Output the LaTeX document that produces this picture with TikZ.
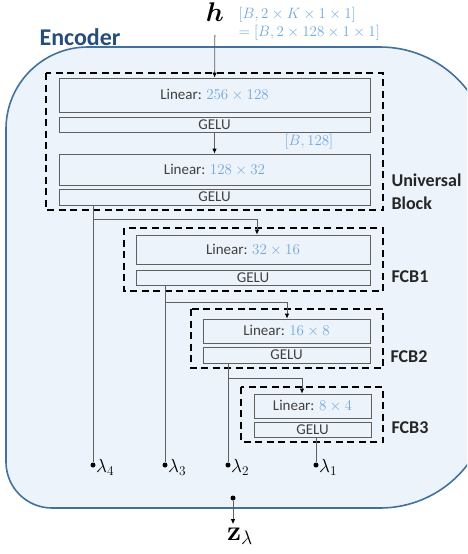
\RequirePackage{fix-cm}
\documentclass[tikz,border=0pt]{standalone}
\usepackage[no-math]{fontspec}
\setmainfont{Carlito}
\usepackage{bm}
\usetikzlibrary{arrows.meta,scopes}
\definecolor{encfill}{RGB}{237,243,250}
\definecolor{encline}{RGB}{65,113,156}
\definecolor{enctext}{RGB}{38,78,122}
\definecolor{dimblue}{RGB}{111,168,220}
\definecolor{wiregray}{RGB}{95,95,95}
\newcommand{\dimtxt}[1]{\textcolor{dimblue}{$#1$}}
\begin{document}
\begin{tikzpicture}[x=1pt,y=-1pt,
    encoder/.style={draw=encline,fill=encfill,line width=1.6pt},
    block/.style={draw=black,line width=2.2pt,dash pattern=on 7pt off 4.5pt},
    box/.style={draw=wiregray,line width=0.8pt,inner sep=0pt,text=black!75,font=\fontsize{15}{17}\selectfont},
    lbl/.style={font=\fontsize{18}{23}\selectfont\bfseries,text=black!85,align=left,anchor=west},
    wire/.style={draw=wiregray,line width=0.8pt},
    arr/.style={-{Latex[length=5pt,width=4.5pt,color=black]}},
    dot/.style={circle,fill=black,inner sep=0pt,minimum size=5pt},
    lam/.style={font=\fontsize{19}{21}\selectfont},
]
\useasboundingbox (0,0) rectangle (467,554);
\clip (0,0) rectangle (467,554);
	% encoder frame
	\draw[encoder] (6,129) arc (180:270:82) -- (380,47) arc (270:360:110)
	  -- (490,398) arc (0:90:110) -- (52,508) arc (90:180:46) -- cycle;
	\node[font=\fontsize{24}{26}\selectfont\bfseries,text=enctext] (enc) at (80,37) {Encoder};
	% input
	\node[font=\fontsize{27}{29}\selectfont] (h) at (215,12) {$\bm{h}$};
	\node[anchor=north west,align=left,font=\fontsize{15}{18}\selectfont] (hdim) at (235,4)
	  {\dimtxt{[B,2\times K\times 1\times 1]}\\\dimtxt{=[B,2\times 128\times 1\times 1]}};
	{[block]
	\draw (46,73) rectangle (383,210); % universal
	\draw (124,228) rectangle (383,291); % fcb1
	\draw (191,309) rectangle (383,368); % fcb2
	\draw (241,387) rectangle (383,442); % fcb3
	}
	% layers
	\node[box,minimum width=311pt,minimum height=34pt] (L1) at (214.5,95) {Linear: \dimtxt{256\times 128}};
	\node[box,minimum width=311pt,minimum height=15pt] (G1) at (214.5,124.5) {GELU};
	\node[box,minimum width=311pt,minimum height=31pt] (L2) at (214.5,169.5) {Linear: \dimtxt{128\times 32}};
	\node[box,minimum width=311pt,minimum height=16pt] (G2) at (214.5,197) {GELU};
	\node[box,minimum width=234pt,minimum height=29pt] (L3) at (253,249.5) {Linear: \dimtxt{32\times 16}};
	\node[box,minimum width=234pt,minimum height=15pt] (G3) at (253,277.5) {GELU};
	\node[box,minimum width=167pt,minimum height=24pt] (L4) at (286.5,331) {Linear: \dimtxt{16\times 8}};
	\node[box,minimum width=167pt,minimum height=16pt] (G4) at (286.5,355) {GELU};
	\node[box,minimum width=117pt,minimum height=24pt] (L5) at (312.5,406) {Linear: \dimtxt{8\times 4}};
	\node[box,minimum width=117pt,minimum height=15pt] (G5) at (312.5,429.5) {GELU};
	\node[font=\fontsize{15}{17}\selectfont] (mid) at (309,142) {\dimtxt{[B,128]}};
	% block names
	\node[lbl] (ub) at (388,192) {Universal\\Block};
	\node[lbl] (f1) at (388,277) {FCB1};
	\node[lbl] (f2) at (387,357) {FCB2};
	\node[lbl] (f3) at (388,428) {FCB3};
	% outputs
	\node[dot,label={[lam,xshift=-3pt,yshift=-2pt]right:$\lambda_4$}] (d4) at (93,465) {};
	\node[dot,label={[lam,xshift=-3pt,yshift=-2pt]right:$\lambda_3$}] (d3) at (165,465) {};
	\node[dot,label={[lam,xshift=-3pt,yshift=-2pt]right:$\lambda_2$}] (d2) at (228,465) {};
	\node[dot,label={[lam,xshift=-3pt,yshift=-2pt]right:$\lambda_1$}] (d1) at (316,465) {};
	\node[dot] (dz) at (233,498) {};
	\node[font=\fontsize{28}{30}\selectfont] (z) at (240,536) {$\mathbf{z}_{\lambda}$};
	\coordinate (t1) at (257,219);
	\coordinate (t2) at (287,302);
	\coordinate (t3) at (302,378);
	{[wire]
	\draw[arr] (h) [shorten <=10pt] -- (L1); % input
	\draw[arr] (G1) -- (L2);
	\draw (d4 |- G2.south) -- (d4);
	\draw[arr] (d4 |- t1) -| (t1 |- L3.north);
	\draw (d3 |- G3.south) -- (d3);
	\draw[arr] (d3 |- t2) -| (t2 |- L4.north);
	\draw (d2 |- G4.south) -- (d2);
	\draw[arr] (d2 |- t3) -| (t3 |- L5.north);
	\draw (d1 |- G5.south) -- (d1);
	\draw[arr] (dz) -- (dz |- z.north);
	}
\end{tikzpicture}
\end{document}
